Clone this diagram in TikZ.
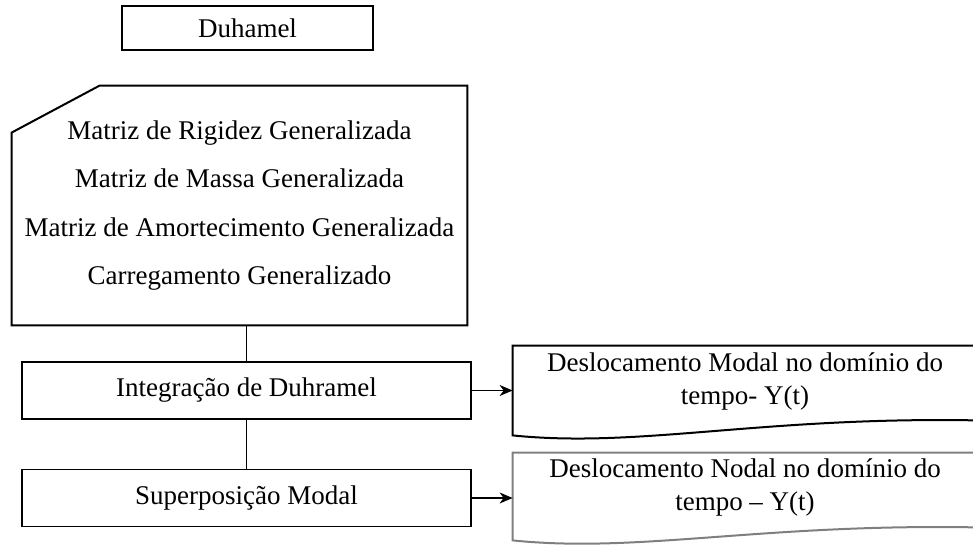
\documentclass[tikz,border=0pt]{standalone}
\usepackage{fontspec}
\setmainfont{Liberation Serif}
\usetikzlibrary{positioning,calc,arrows.meta}
\definecolor{edgegray}{HTML}{7F7F7F}

\begin{document}
\begin{tikzpicture}[x=0.5pt, y=-0.5pt, font=\fontsize{13.5}{16.5}\selectfont,
  box/.style={draw, line width=0.6pt, minimum width=224.5pt, minimum height=28.5pt, inner sep=0pt},
  doc/.style={minimum width=232pt, align=center, inner sep=0pt},
  conn/.style={line width=0.6pt},
  flow/.style={line width=0.6pt, -{Stealth[length=6.5pt,width=5.5pt,inset=2pt]}}]
\path[use as bounding box, clip] (0,0) rectangle (973,545);

% Title
\node[box, line width=0.9pt, minimum width=125.5pt, minimum height=22pt] (duhamel) at (247.5,28) {Duhamel};

% Input card
\node[minimum width=227.5pt, minimum height=119.5pt, align=center, inner sep=0pt,
  font=\fontsize{13.5}{24.2}\selectfont] (card) at (239.5,205.5)
  {Matriz de Rigidez Generalizada\\ Matriz de Massa Generalizada\\
   Matriz de Amortecimento Generalizada\\ Carregamento Generalizado};
\draw[line width=1pt] ($(card.north west)+(0,47)$) -- ($(card.north west)+(88,0)$)
  -- (card.north east) -- (card.south east) -- (card.south west) -- cycle;

% Process steps
\node[box] (integ) at (246.5,390.5) {Integração de Duhramel};
\node[box] (super) at (246.5,498) {Superposição Modal};

% Output documents
\node[doc, minimum height=35pt] (modal) at (745,381) {Deslocamento Modal no domínio do\\ tempo- Y(t)};
\node[doc, minimum height=34pt] (nodal) at (745,487) {Deslocamento Nodal no domínio do\\ tempo -- Y(t)};
\draw[line width=1pt] (modal.north west) -- (modal.north east) -- ($(modal.south east)+(0,4)$)
  .. controls ($(modal.south east)+(-217,0)$) and ($(modal.south west)+(127,32)$) .. ($(modal.south west)+(0,19)$) -- cycle;
\draw[edgegray, line width=1pt] (nodal.north west) -- (nodal.north east) -- ($(nodal.south east)+(0,6)$)
  .. controls ($(nodal.south east)+(-217,2)$) and ($(nodal.south west)+(127,32)$) .. ($(nodal.south west)+(0,19)$) -- cycle;

% Connectors
\draw[conn] (integ.north |- card.south) -- (integ.north);
\draw[conn] (integ.south) -- (super.north);
\draw[flow] (integ.east) -- (integ.east -| modal.west);
\draw[flow] (super.east) -- (super.east -| nodal.west);
\end{tikzpicture}
\end{document}
